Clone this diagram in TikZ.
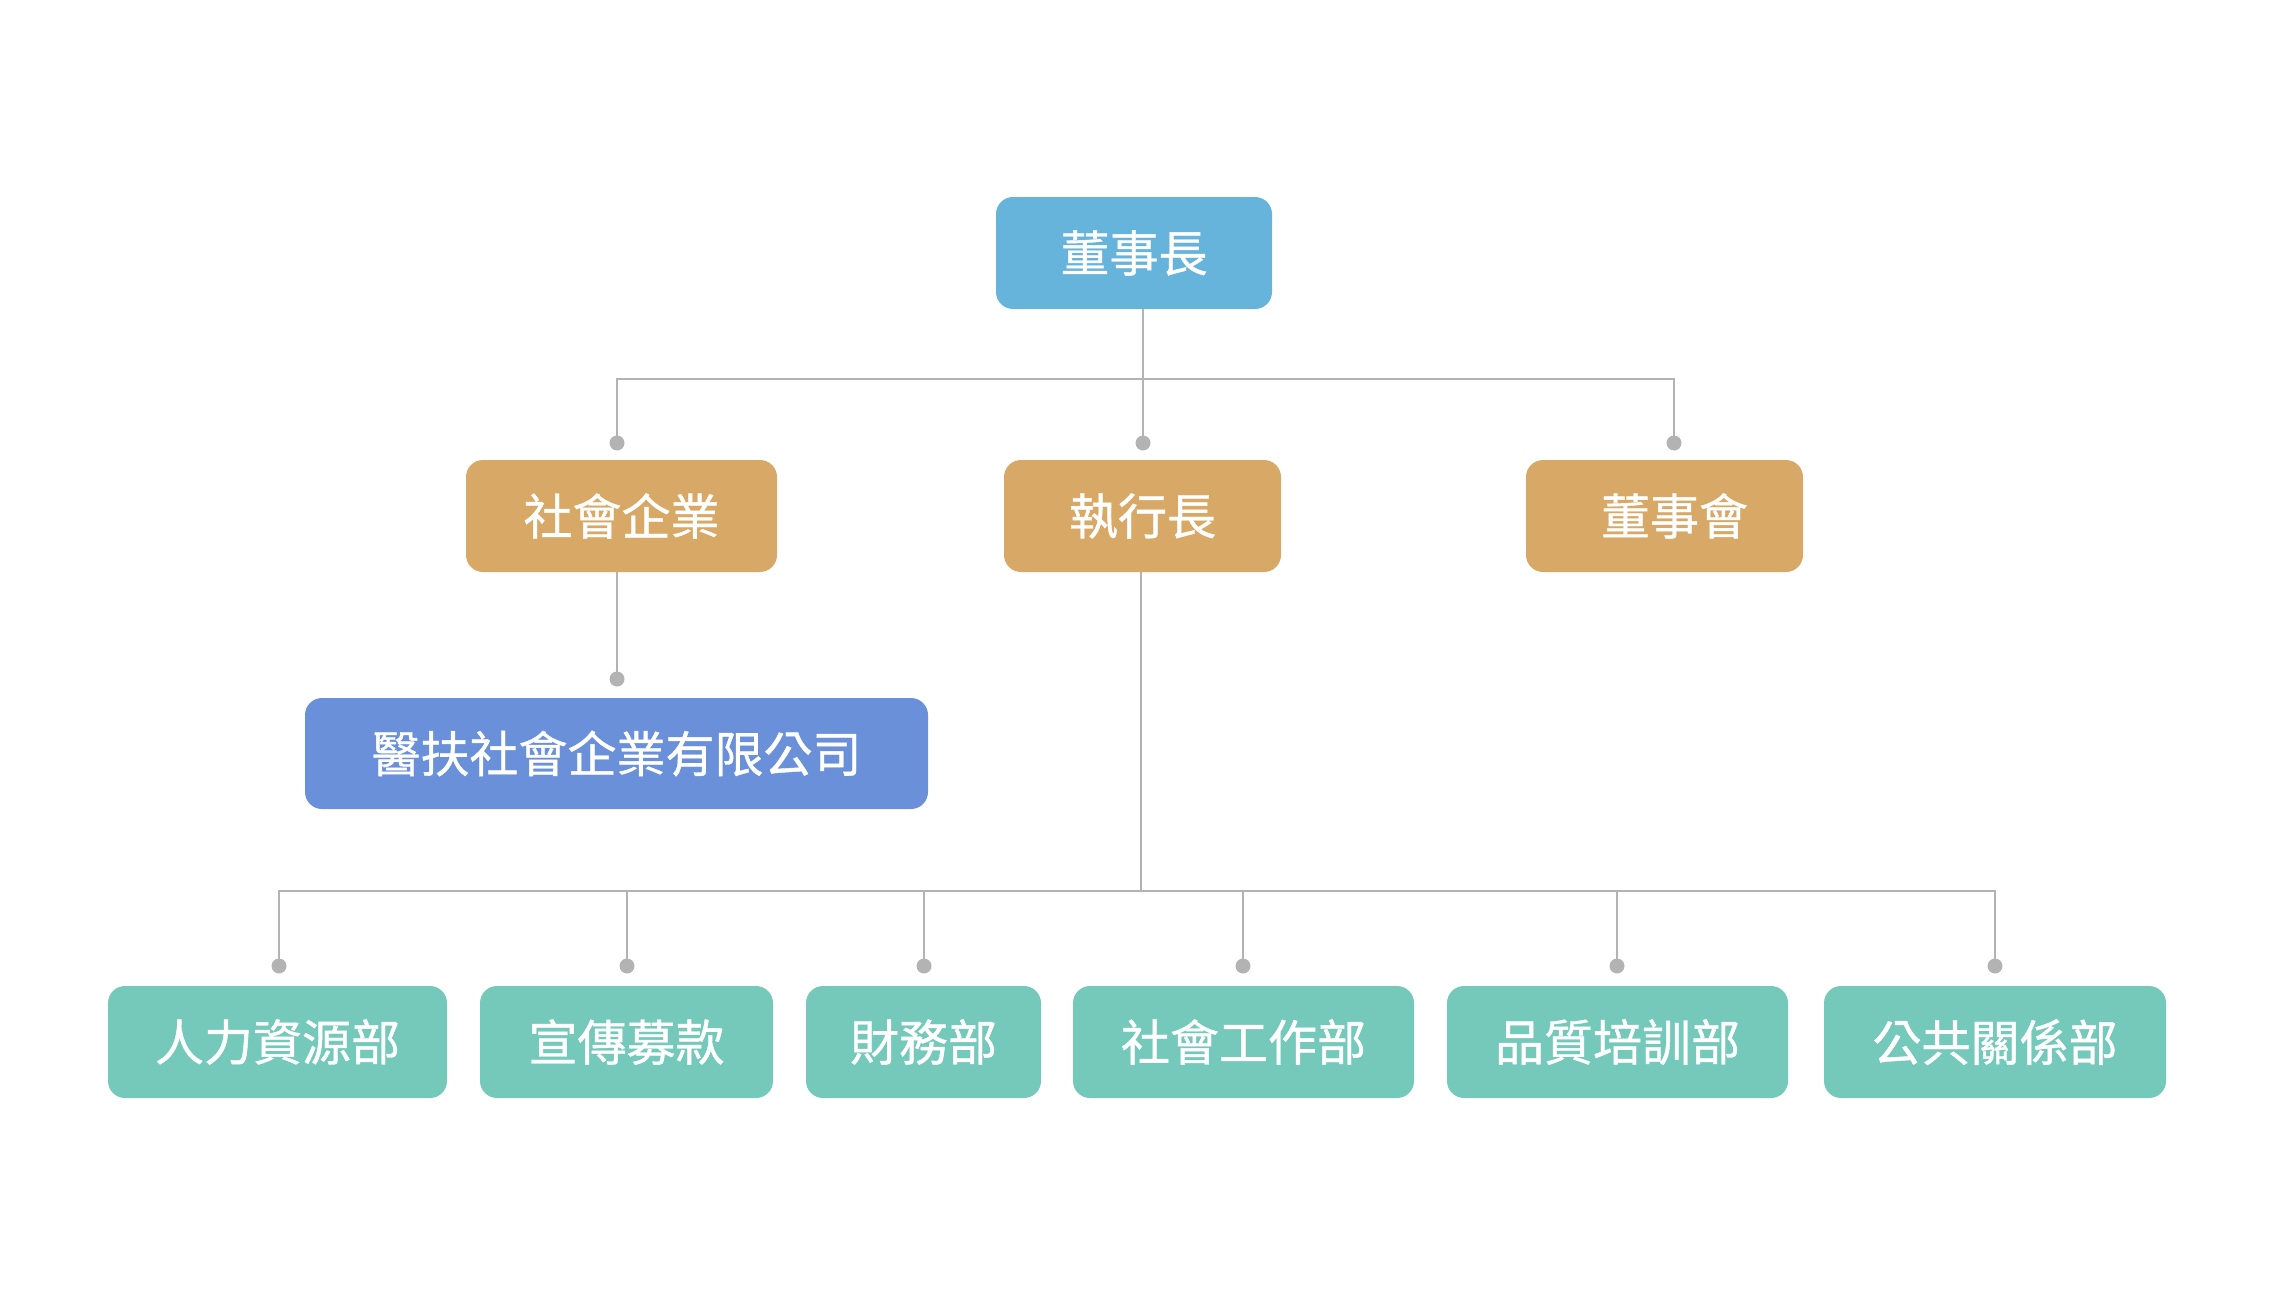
\documentclass[tikz,border=0pt]{standalone}
\usepackage{fontspec}
\newfontfamily\cjk[FakeBold=0.8]{Noto Sans CJK TC}
\definecolor{cblue}{HTML}{66B3DB}
\definecolor{cgold}{HTML}{D8A966}
\definecolor{cco}{HTML}{6990D8}
\definecolor{cteal}{HTML}{74C9BB}
\definecolor{lgray}{HTML}{B3B3B3}
\begin{document}
\begin{tikzpicture}[x=0.5pt,y=-0.5pt,
  box/.style={rounded corners=8.5pt, inner sep=0pt, text=white,
    font=\cjk\fontsize{24.5}{29}\selectfont, minimum height=56pt},
  conn/.style={draw=lgray, line width=1.25pt},
  dot/.style={circle, fill=lgray, inner sep=0pt, minimum size=7.5pt}]
\useasboundingbox (0,0) rectangle (2274,1295);
% boxes
\node[box, fill=cblue, minimum width=138pt] (chair) at (1134,253) {董事長};
\node[box, fill=cgold, minimum width=155.5pt] (soc) at (621.5,516) {社會企業};
\node[box, fill=cgold, minimum width=138.5pt] (ceo) at (1142.5,516) {執行長};
\node[box, fill=cgold, minimum width=138.5pt] (board) at (1664.5,516) {\hspace*{10pt}董事會};
\node[box, fill=cco, minimum width=311.5pt, minimum height=55.5pt] (co) at (616.5,753.5) {醫扶社會企業有限公司};
\node[box, fill=cteal, minimum width=169.5pt] (hr) at (277.5,1042) {人力資源部};
\node[box, fill=cteal, minimum width=146.5pt] (pr) at (626.5,1042) {宣傳募款};
\node[box, fill=cteal, minimum width=117.5pt] (fin) at (923.5,1042) {財務部};
\node[box, fill=cteal, minimum width=170.5pt] (sw) at (1243.5,1042) {社會工作部};
\node[box, fill=cteal, minimum width=170.5pt] (qa) at (1617.5,1042) {品質培訓部};
\node[box, fill=cteal, minimum width=171pt] (pub) at (1995,1042) {公共關係部};
% junctions
\coordinate (j1) at (1143,379);
\coordinate (j2) at (1141,891);
% dots
\node[dot] (dsoc) at (617,443) {};
\node[dot] (dceo) at (1143,443) {};
\node[dot] (dboard) at (1674,443) {};
\node[dot] (dco) at (617,679) {};
\node[dot] (dhr) at (279,966) {};
\node[dot] (dpr) at (627,966) {};
\node[dot] (dfin) at (924,966) {};
\node[dot] (dsw) at (1243,966) {};
\node[dot] (dqa) at (1617,966) {};
\node[dot] (dpub) at (1995,966) {};
% connectors
\draw[conn] (j1 |- chair.south) -- (dceo.center);
\draw[conn] (dsoc.center) -- (dsoc |- j1) -- (dboard |- j1) -- (dboard.center);
\draw[conn] (dco |- soc.south) -- (dco.center);
\draw[conn] (j2 |- ceo.south) -- (j2);
\draw[conn] (dhr.center) -- (dhr |- j2) -- (dpub |- j2) -- (dpub.center);
\draw[conn] (dpr |- j2) -- (dpr.center);
\draw[conn] (dfin |- j2) -- (dfin.center);
\draw[conn] (dsw |- j2) -- (dsw.center);
\draw[conn] (dqa |- j2) -- (dqa.center);
\end{tikzpicture}
\end{document}
